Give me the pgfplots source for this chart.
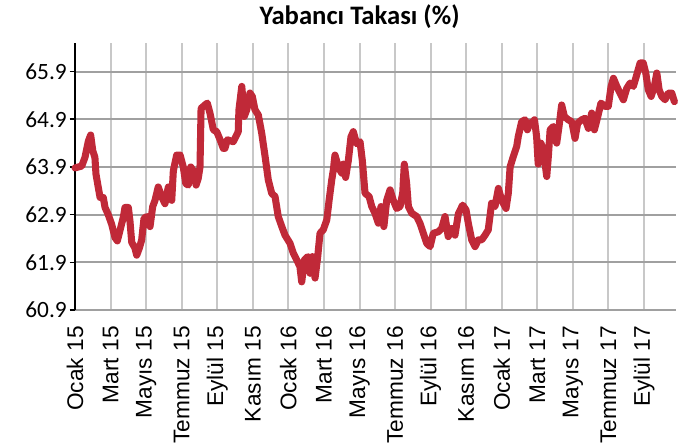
\documentclass[border=0pt]{standalone}
\usepackage{fontspec}
\setmainfont{Carlito}
\newfontfamily\arialf{Liberation Sans}
\usepackage{pgfplots}
\pgfplotsset{compat=1.18}
\usepackage{pgfplotstable}
\definecolor{myred}{RGB}{192,41,56}
\definecolor{hgrid}{RGB}{160,160,160}
\definecolor{vgrid}{RGB}{200,200,200}
\pgfplotstableread{
m v
0.00 63.88
0.38 63.92
0.56 64.10
0.75 64.44
0.88 64.57
1.00 64.24
1.12 64.10
1.18 63.75
1.31 63.47
1.41 63.26
1.59 63.26
1.69 63.05
1.87 62.90
2.06 62.70
2.25 62.42
2.38 62.35
2.53 62.57
2.72 62.85
2.81 63.05
3.00 63.05
3.09 62.77
3.19 62.32
3.37 62.20
3.47 62.05
3.62 62.20
3.75 62.37
3.88 62.82
4.03 62.86
4.22 62.65
4.37 63.07
4.50 63.20
4.68 63.48
4.88 63.27
5.06 63.13
5.25 63.48
5.44 63.20
5.53 63.82
5.72 64.15
5.91 64.15
6.09 63.90
6.23 63.55
6.37 63.52
6.51 63.90
6.65 63.82
6.81 63.52
6.93 63.66
7.03 63.90
7.09 65.13
7.31 65.20
7.44 65.24
7.59 65.03
7.78 64.68
7.97 64.64
8.16 64.47
8.34 64.29
8.43 64.29
8.57 64.47
8.90 64.43
9.18 64.64
9.22 65.10
9.38 65.59
9.52 64.96
9.66 65.10
9.84 65.45
9.97 65.38
10.12 65.10
10.31 64.99
10.50 64.61
10.69 64.12
10.87 63.63
11.06 63.35
11.25 63.28
11.43 62.86
11.63 62.65
11.81 62.47
12.09 62.30
12.28 62.09
12.47 61.95
12.65 61.81
12.75 61.49
12.90 61.95
13.09 62.02
13.22 61.67
13.35 62.02
13.50 61.57
13.65 62.02
13.78 62.51
13.96 62.58
14.16 62.79
14.29 63.20
14.44 63.63
14.53 63.84
14.62 64.15
14.81 63.90
15.00 63.77
15.09 63.96
15.22 63.68
15.37 64.03
15.52 64.53
15.65 64.64
15.84 64.39
16.03 64.43
16.16 64.03
16.31 63.35
16.54 63.28
16.69 63.07
16.87 62.93
17.06 62.72
17.21 63.07
17.37 62.65
17.53 63.20
17.72 63.42
17.90 63.20
18.09 63.03
18.28 63.07
18.43 63.35
18.52 63.96
18.65 63.56
18.75 63.07
18.94 62.93
19.22 62.86
19.40 62.72
19.59 62.51
19.78 62.30
19.97 62.23
20.15 62.51
20.43 62.54
20.62 62.61
20.81 62.86
20.99 62.44
21.19 62.61
21.37 62.47
21.56 62.92
21.80 63.10
21.99 63.00
22.12 62.72
22.31 62.37
22.50 62.23
22.68 62.37
22.87 62.37
23.06 62.47
23.24 62.58
23.43 63.14
23.62 63.07
23.81 63.45
24.00 63.20
24.24 63.03
24.37 63.35
24.47 63.90
24.65 64.12
24.84 64.33
24.93 64.54
25.12 64.85
25.31 64.89
25.44 64.68
25.59 64.82
25.78 64.85
25.84 64.89
25.96 64.54
26.05 63.96
26.20 64.40
26.34 64.26
26.53 63.70
26.62 64.12
26.72 64.68
26.90 64.75
27.09 64.40
27.22 64.75
27.37 65.20
27.52 64.96
27.74 64.89
27.94 64.85
28.12 64.50
28.27 64.82
28.50 64.89
28.68 64.92
28.87 64.71
29.06 65.03
29.21 64.68
29.40 64.96
29.58 65.24
29.81 65.17
29.99 65.17
30.15 65.59
30.28 65.76
30.47 65.59
30.65 65.45
30.84 65.31
31.03 65.55
31.22 65.66
31.40 65.59
31.59 65.83
31.78 66.08
31.96 66.08
32.10 65.87
32.24 65.52
32.40 65.38
32.58 65.59
32.72 65.87
32.85 65.52
33.00 65.38
33.18 65.31
33.37 65.45
33.56 65.45
33.71 65.27
}\seriesA
\begin{document}
\begin{tikzpicture}
\useasboundingbox (-56.25pt,-101.25pt) rectangle (453.75pt,232.5pt);
\begin{axis}[
  at={(0,0)}, anchor=south west,
  scale only axis,
  width=450.75pt, height=200.25pt,
  xmin=0, xmax=33.8,
  ymin=60.9, ymax=66.5,
  axis x line*=bottom, axis y line*=left,
  x axis line style={draw=hgrid, line width=1.2pt, -},
  y axis line style={draw=black, line width=1.2pt, -},
  xtick={0,2,...,32},
  xticklabels={Ocak 15,Mart 15,Mayıs 15,Temmuz 15,Eylül 15,Kasım 15,Ocak 16,Mart 16,Mayıs 16,Temmuz 16,Eylül 16,Kasım 16,Ocak 17,Mart 17,Mayıs 17,Temmuz 17,Eylül 17},
  ytick={60.9,61.9,62.9,63.9,64.9,65.9},
  yticklabels={60.9,61.9,62.9,63.9,64.9,65.9},
  xmajorgrids, ymajorgrids,
  x grid style={draw=vgrid, line width=1.5pt},
  y grid style={draw=hgrid, line width=1.5pt},
  major x tick style={draw=none},
  major y tick style={draw=black, line width=1.2pt},
  tick align=outside,
  major tick length=4pt,
  x tick label style={font=\arialf\fontsize{17}{17}\selectfont, rotate=90, anchor=east, inner sep=2pt},
  y tick label style={font=\fontsize{17.5}{17.5}\selectfont, inner sep=2pt},
  /pgf/number format/assume math mode=true,
  xticklabel shift=6pt,
  title={\bfseries Yabancı Takası (\%)},
  title style={font=\fontsize{20}{20}\selectfont, at={(0.5,1)}, anchor=south, yshift=1pt, xshift=-12pt},
  clip=false,
]
\addplot[color=myred, line width=5.3pt, line join=round, line cap=round] table[x=m, y=v] {\seriesA};
\end{axis}
\end{tikzpicture}
\end{document}
